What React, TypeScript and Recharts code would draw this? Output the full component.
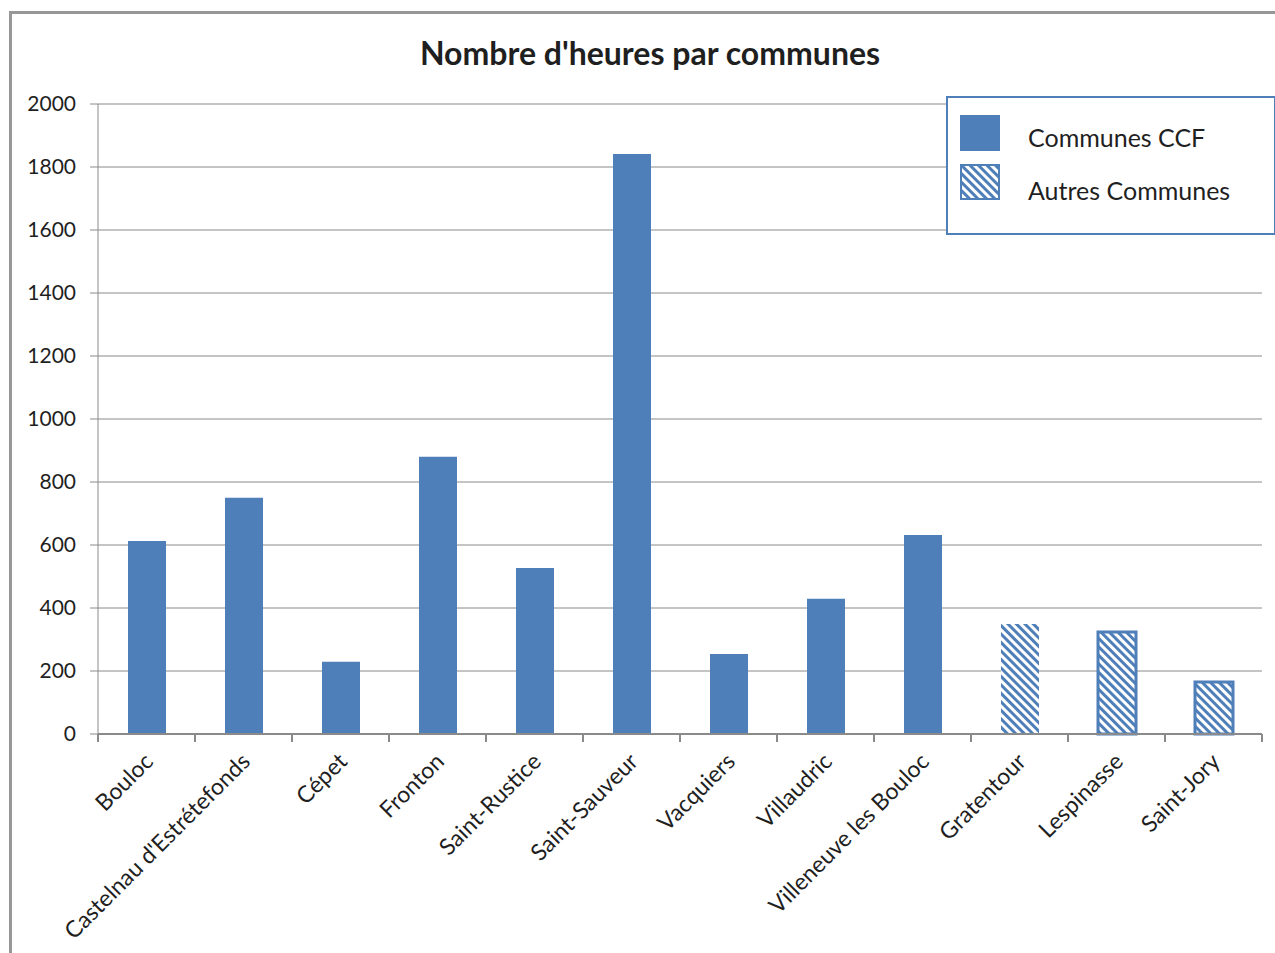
import { Bar, BarChart, CartesianGrid, Cell, Legend, XAxis, YAxis } from "recharts";

const communes = [
    "Bouloc",
    "Castelnau d'Estrétefonds",
    "Cépet",
    "Fronton",
    "Saint-Rustice",
    "Saint-Sauveur",
    "Vacquiers",
    "Villaudric",
    "Villeneuve les Bouloc",
    "Gratentour",
    "Lespinasse",
    "Saint-Jory",
];
const ccfHours = [613, 750, 229, 880, 527, 1841, 254, 429, 632, null, null, null];
const autresHours = [null, null, null, null, null, null, null, null, null, 349, 324, 165];
const autresBordered = [false, true, true];
const yTicks = [0, 200, 400, 600, 800, 1000, 1200, 1400, 1600, 1800, 2000];

const data = communes.map((name, i) => ({ name, ccf: ccfHours[i], autres: autresHours[i] }));

const BLUE = "#4F7FB8";
const GRID = "#8a8a8a";
const TEXT = "#1f1f1f";
const FONT = "Lato, 'Open Sans', sans-serif";
const STEP = 97; // width of one category band

function HatchDefs({ id }: { id: string }) {
    return (
        <defs>
            <pattern id={id} patternUnits="userSpaceOnUse" width={6} height={6} patternTransform="rotate(-45)">
                <rect x={0} y={0} width={6} height={6} fill="#fff" />
                <rect x={0} y={0} width={3} height={6} fill={BLUE} />
            </pattern>
        </defs>
    );
}

function CategoryTick(props: any) {
    const { x, y, payload, index } = props;
    const half = STEP / 2;
    return (
        <g>
            <line x1={x - half} x2={x - half} y1={y - 8} y2={y} stroke={GRID} strokeWidth={2} />
            {index === communes.length - 1 && (
                <line x1={x + half} x2={x + half} y1={y - 8} y2={y} stroke={GRID} strokeWidth={2} />
            )}
            <text
                transform={`translate(${x + 8},${y + 21}) rotate(-45)`}
                textAnchor="end"
                fontSize={23}
                fill={TEXT}
                fontFamily={FONT}
            >
                {payload.value}
            </text>
        </g>
    );
}

function LegendBox() {
    return (
        <div
            style={{
                width: 330,
                height: 139,
                boxSizing: "border-box",
                border: `2px solid ${BLUE}`,
                background: "#fff",
                fontFamily: FONT,
                fontSize: 25,
                color: TEXT,
                position: "relative",
            }}
        >
            <svg width={44} height={90} style={{ position: "absolute", left: 11, top: 16 }}>
                <HatchDefs id="hatch-legend" />
                <rect x={1} y={1} width={40} height={36} fill={BLUE} />
                <rect x={2} y={51} width={38} height={34} fill="url(#hatch-legend)" stroke={BLUE} strokeWidth={2} />
            </svg>
            <div style={{ position: "absolute", left: 80, top: 24 }}>Communes CCF</div>
            <div style={{ position: "absolute", left: 80, top: 77 }}>Autres Communes</div>
        </div>
    );
}

export default function App() {
    return (
        <div style={{ position: "absolute", left: 0, top: 0, width: 1275, height: 953, background: "#fff", overflow: "hidden" }}>
            <div
                style={{
                    position: "absolute",
                    left: 9,
                    top: 11,
                    width: 1300,
                    height: 1000,
                    borderLeft: "3px solid #979797",
                    borderTop: "3px solid #979797",
                }}
            />
            <div
                style={{
                    position: "absolute",
                    left: 250,
                    width: 800,
                    top: 33,
                    textAlign: "center",
                    fontFamily: FONT,
                    fontWeight: 700,
                    fontSize: 32,
                    color: TEXT,
                }}
            >
                Nombre d'heures par communes
            </div>
            <div style={{ position: "absolute", left: 0, top: 0 }}>
                <BarChart
                    width={1275}
                    height={953}
                    data={data}
                    margin={{ top: 104, right: 13, bottom: 0, left: 0 }}
                    barCategoryGap="30%"
                >
                    <HatchDefs id="hatch" />
                    <CartesianGrid vertical={false} stroke={GRID} strokeWidth={1} />
                    <XAxis
                        dataKey="name"
                        height={219}
                        interval={0}
                        axisLine={{ stroke: GRID, strokeWidth: 2 }}
                        tickLine={false}
                        tick={<CategoryTick />}
                    />
                    <YAxis
                        width={98}
                        domain={[0, 2000]}
                        ticks={yTicks}
                        interval={0}
                        axisLine={{ stroke: GRID, strokeWidth: 1 }}
                        tickLine={{ stroke: GRID }}
                        tickSize={8}
                        tickMargin={14}
                        tick={{ fontSize: 21, fill: TEXT, fontFamily: FONT }}
                    />
                    <Legend
                        layout="horizontal"
                        verticalAlign="middle"
                        align="center"
                        content={() => <LegendBox />}
                        wrapperStyle={{ position: "absolute", left: 946, top: 96, width: 330, height: 139 }}
                    />
                    <Bar dataKey="ccf" name="Communes CCF" stackId="a" fill={BLUE} barSize={38} isAnimationActive={false} />
                    <Bar dataKey="autres" name="Autres Communes" stackId="a" fill="url(#hatch)" barSize={38} isAnimationActive={false}>
                        {data.map((d, i) => {
                            const k = i - (communes.length - autresBordered.length);
                            const bordered = k >= 0 && autresBordered[k];
                            return <Cell key={d.name} stroke={bordered ? BLUE : "none"} strokeWidth={bordered ? 3 : 0} />;
                        })}
                    </Bar>
                </BarChart>
            </div>
        </div>
    );
}
